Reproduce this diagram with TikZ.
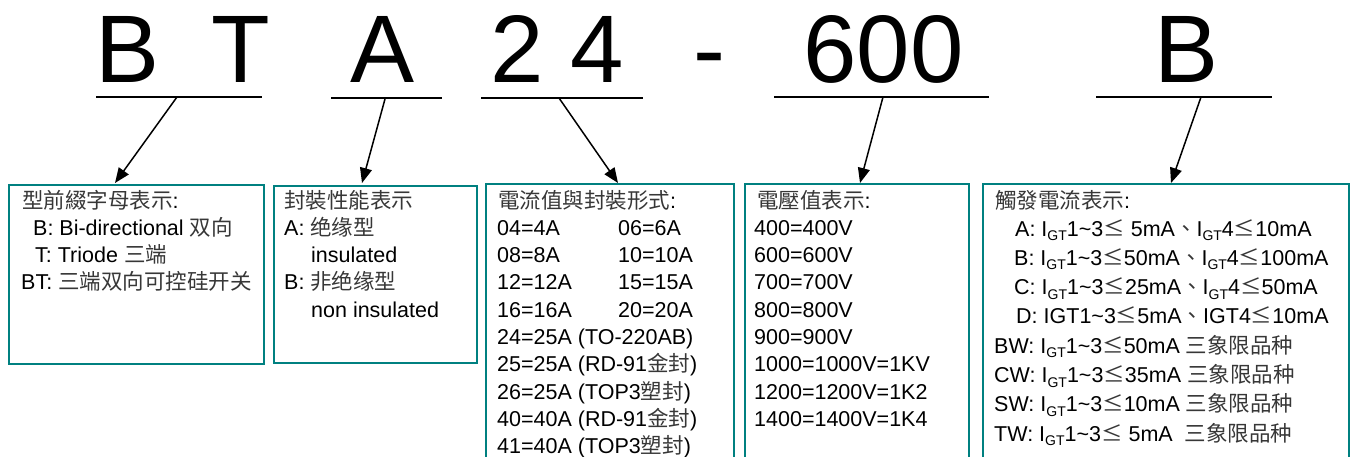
\documentclass[tikz,border=0pt]{standalone}
\usepackage{fontspec}
\setmainfont{Liberation Sans}
\newfontfamily\cjkf{Noto Sans CJK TC}
\usetikzlibrary{arrows.meta}
\definecolor{boxteal}{RGB}{0,128,128}
\definecolor{cjkgray}{RGB}{55,55,55}
\newcommand\zh[1]{{\color{cjkgray}\cjkf #1}}
\newcommand\IGT{I\raisebox{-4.5pt}{\fontsize{14}{14}\selectfont GT}}
\newcommand\LE{\zh{≤}}
\newcommand\tld{\textasciitilde}
\begin{document}
\begin{tikzpicture}[x=1pt,y=-1pt,
  big/.style={anchor=base, inner sep=0pt, font=\fontsize{96}{96}\selectfont},
  uline/.style={line width=2pt},
  arr/.style={line width=1.5pt, -{Triangle[length=15pt,width=12pt]}},
  box/.style={draw=boxteal, line width=2pt, anchor=north west, inner sep=0pt},
  txt/.style={anchor=base west, inner sep=0pt, font=\fontsize{21.5}{26}\selectfont}]
\useasboundingbox (0,0) rectangle (1355,456);
\clip (0,0) rectangle (1355,456);

% big code letters
\node[big] (cB)  at (127.5,82) {B};
\node[big] (cT)  at (241,82) {T};
\node[big] (cA)  at (382.5,82) {A};
\node[big] (c24) at (557,82) {2 4};
\node[big] (cd)  at (709,82) {-};
\node[big] (c600) at (883.5,82) {600};
\node[big] (cB2) at (1186.5,82) {B};

% underlines
\coordinate (u1a) at (96,97);   \coordinate (u1b) at (262,97);
\coordinate (u2a) at (331,98);  \coordinate (u2b) at (442,98);
\coordinate (u3a) at (481,98);  \coordinate (u3b) at (643,98);
\coordinate (u4a) at (774,97);  \coordinate (u4b) at (989,97);
\coordinate (u5a) at (1096,97); \coordinate (u5b) at (1272,97);
\draw[uline] (u1a) -- (u1b);
\draw[uline] (u2a) -- (u2b);
\draw[uline] (u3a) -- (u3b);
\draw[uline] (u4a) -- (u4b);
\draw[uline] (u5a) -- (u5b);

% boxes
\node[box, minimum width=255pt, minimum height=179pt] (box1) at (8,184) {};
\node[box, minimum width=203pt, minimum height=177pt] (box2) at (273,185) {};
\node[box, minimum width=248pt, minimum height=300pt] (box3) at (485,183) {};
\node[box, minimum width=224pt, minimum height=300pt] (box4) at (744,183) {};
\node[box, minimum width=366pt, minimum height=300pt] (box5) at (982,183) {};

% box 1
\node[txt] (p0) at (22,208)   {\zh{型前綴字母表示}:};
\node[txt] (p1) at (33,235.3) {B: Bi-directional \zh{双向}};
\node[txt] (p2) at (35,262.6) {T: Triode \zh{三端}};
\node[txt] (p3) at (21,289.9) {BT: \zh{三端双向可控硅开关}};

% box 2
\node[txt] (q0) at (284,208)   {\zh{封裝性能表示}};
\node[txt] (q1) at (284,235.3) {A: \zh{绝缘型}};
\node[txt] (q2) at (311,262.6) {insulated};
\node[txt] (q3) at (284,289.9) {B: \zh{非绝缘型}};
\node[txt] (q4) at (311,317.2) {non insulated};

% box 3
\node[txt] (r0) at (498,208) {\zh{電流值與封裝形式}:};
\node[txt] (r1a) at (497,235.3) {04=4A};   \node[txt] (r1b) at (618,235.3) {06=6A};
\node[txt] (r2a) at (497,262.6) {08=8A};   \node[txt] (r2b) at (618,262.6) {10=10A};
\node[txt] (r3a) at (497,289.9) {12=12A};  \node[txt] (r3b) at (618,289.9) {15=15A};
\node[txt] (r4a) at (497,317.2) {16=16A};  \node[txt] (r4b) at (618,317.2) {20=20A};
\node[txt] (r5) at (497,344.5) {24=25A (TO-220AB)};
\node[txt] (r6) at (497,371.8) {25=25A (RD-91\zh{金封})};
\node[txt] (r7) at (497,399.1) {26=25A (TOP3\zh{塑封})};
\node[txt] (r8) at (497,426.4) {40=40A (RD-91\zh{金封})};
\node[txt] (r9) at (497,453.7) {41=40A (TOP3\zh{塑封})};

% box 4
\node[txt] (v0) at (757,208) {\zh{電壓值表示}:};
\foreach \t [count=\i] in {400=400V,600=600V,700=700V,800=800V,900=900V,1000=1000V=1KV,1200=1200V=1K2,1400=1400V=1K4}
  \node[txt] (v\i) at (754,{208+27.3*\i}) {\t};

% box 5
\node[txt] (w0) at (995,208) {\zh{觸發電流表示}:};
\node[txt] (w1) at (1015,236) {A: \IGT1\tld3\LE\ 5mA\zh{、}\IGT4\LE10mA};
\node[txt] (w2) at (1014,265.3) {B: \IGT1\tld3\LE50mA\zh{、}\IGT4\LE100mA};
\node[txt] (w3) at (1014,294.6) {C: \IGT1\tld3\LE25mA\zh{、}\IGT4\LE50mA};
\node[txt] (w4) at (1016,323.9) {D: IGT1\tld3\LE5mA\zh{、}IGT4\LE10mA};
\node[txt] (w5) at (994,353.2) {BW: \IGT1\tld3\LE50mA \zh{三象限品种}};
\node[txt] (w6) at (994,382.5) {CW: \IGT1\tld3\LE35mA \zh{三象限品种}};
\node[txt] (w7) at (994,411.8) {SW: \IGT1\tld3\LE10mA \zh{三象限品种}};
\node[txt] (w8) at (994,441.1) {TW: \IGT1\tld3\LE\ 5mA\ \ \zh{三象限品种}};

% arrows
\coordinate (s1) at (177,97);  \coordinate (t1) at (115,183);
\coordinate (s2) at (385,99);  \coordinate (t2) at (362,183);
\coordinate (s3) at (559,98);  \coordinate (t3) at (618,183);
\coordinate (s4) at (883,97);  \coordinate (t4) at (860,183);
\coordinate (s5) at (1201,97); \coordinate (t5) at (1171,183);
\draw[arr] (s1) -- (t1);
\draw[arr] (s2) -- (t2);
\draw[arr] (s3) -- (t3);
\draw[arr] (s4) -- (t4);
\draw[arr] (s5) -- (t5);
\end{tikzpicture}
\end{document}
